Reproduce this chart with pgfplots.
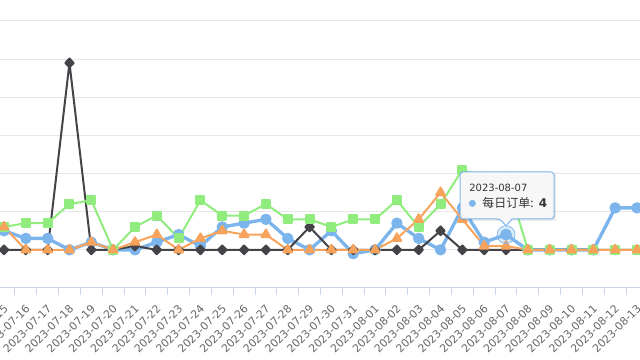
\documentclass[border=0pt]{standalone}
\usepackage{pgfplots}
\pgfplotsset{compat=1.18}
\usepackage{fontspec}
\setmainfont{DejaVu Sans}
\newfontfamily\cjk{Noto Sans CJK SC}
\definecolor{hcblue}{HTML}{7CB5EC}
\definecolor{hcblack}{HTML}{434348}
\definecolor{hcgreen}{HTML}{90ED7D}
\definecolor{hcorange}{HTML}{F7A35C}
\definecolor{gridc}{HTML}{E6E6E6}
\definecolor{axisc}{HTML}{CCD6EB}
\definecolor{labc}{HTML}{666666}
\definecolor{ttbg}{HTML}{F9F9F9}
\definecolor{ttext}{HTML}{333333}
\begin{document}
\begin{tikzpicture}[x=1pt,y=1pt]
\useasboundingbox (0,-43.2) rectangle (384,172.8);
\clip (0,-43.2) rectangle (384,172.8);
\begin{axis}[
  at={(0,0)}, anchor=south west, scale only axis,
  width=384pt, height=172.8pt,
  xmin=-0.183, xmax=29.137, ymin=-10, ymax=65.5,
  axis x line*=bottom, axis y line*=left,
  y axis line style={draw=none},
  x axis line style={draw=axisc, line width=0.6pt},
  ytick={0,10,...,60}, yticklabels={},
  ymajorgrids, grid style={draw=gridc, line width=0.6pt},
  ytick style={draw=none},
  xtick={0,...,29},
  xticklabels={2023-07-15,2023-07-16,2023-07-17,2023-07-18,2023-07-19,2023-07-20,2023-07-21,2023-07-22,2023-07-23,2023-07-24,2023-07-25,2023-07-26,2023-07-27,2023-07-28,2023-07-29,2023-07-30,2023-07-31,2023-08-01,2023-08-02,2023-08-03,2023-08-04,2023-08-05,2023-08-06,2023-08-07,2023-08-08,2023-08-09,2023-08-10,2023-08-11,2023-08-12,2023-08-13},
  major x tick style={draw=none},
  minor xtick={-0.5,0.5,...,29.5},
  minor x tick style={draw=axisc, line width=0.6pt},
  minor tick length=4.5pt, tick align=outside,
  xticklabel style={font=\fontsize{6.5}{8}\selectfont, text=labc, rotate=45, anchor=east, inner sep=0pt, xshift=1.8pt},
  xticklabel shift=8pt,
  clip=false,
]
% blue series
\addplot[hcblue, line width=2pt, line join=round, mark=*, mark size=2.4pt, mark options={draw=none, fill=hcblue}] coordinates {
(0,5)(1,3)(2,3)(3,0)(4,2)(5,0)(6,0)(7,2)(8,4)(9,1)(10,6)(11,7)(12,8)(13,3)(14,0)(15,5)(16,-1)(17,0)(18,7)(19,3)(20,0)(21,11)(22,2)(23,4)(24,0)(25,0)(26,0)(27,0)(28,11)(29,11)};
% black series
\addplot[hcblack, line width=1.2pt, line join=round, mark=diamond*, mark size=2.6pt, mark options={draw=none, fill=hcblack, xscale=1.3}] coordinates {
(0,0)(1,0)(2,0)(3,49)(4,0)(5,0)(6,1)(7,0)(8,0)(9,0)(10,0)(11,0)(12,0)(13,0)(14,6)(15,0)(16,0)(17,0)(18,0)(19,0)(20,5)(21,0)(22,0)(23,0)(24,0)(25,0)(26,0)(27,0)(28,0)(29,0)};
% green series
\addplot[hcgreen, line width=1.2pt, line join=round, mark=square*, mark size=2.4pt, mark options={draw=none, fill=hcgreen}] coordinates {
(0,6)(1,7)(2,7)(3,12)(4,13)(5,0)(6,6)(7,9)(8,3)(9,13)(10,9)(11,9)(12,12)(13,8)(14,8)(15,6)(16,8)(17,8)(18,13)(19,6)(20,12)(21,21)(22,19)(23,19)(24,0)(25,0)(26,0)(27,0)(28,0)(29,0)};
% orange series
\addplot[hcorange, line width=1.2pt, line join=round, mark=triangle*, mark size=3pt, mark options={draw=none, fill=hcorange}] coordinates {
(0,6)(1,0)(2,0)(3,0)(4,2)(5,0)(6,2)(7,4)(8,0)(9,3)(10,5)(11,4)(12,4)(13,0)(14,0)(15,0)(16,0)(17,0)(18,3)(19,8)(20,15)(21,8)(22,1)(23,1)(24,0)(25,0)(26,0)(27,0)(28,0)(29,0)};
% hovered point
\addplot[hcblue, only marks, mark=*, mark size=5.4pt, mark options={draw=none, fill=hcblue, fill opacity=0.3}] coordinates {(23,4)};
\addplot[hcblue, only marks, mark=*, mark size=3.2pt, mark options={draw=none, fill=hcblue}] coordinates {(23,4)};
\end{axis}
% tooltip
\fill[black, opacity=0.08] (277,40.2) rectangle (333.6,68.4);
\draw[hcblue, line width=0.6pt, fill=ttbg, fill opacity=0.97]
  (276,55) [rounded corners=1.8pt] -- (276,41.4) -- (300,41.4) [sharp corners] -- (303.6,37.2) -- (307.2,41.4) [rounded corners=1.8pt] -- (332.4,41.4) -- (332.4,69.6) -- (276,69.6) -- cycle;
\node[anchor=base west, inner sep=0pt, text=ttext, font=\fontsize{6}{7}\selectfont] at (281.4,57.6) {2023-08-07};
\fill[hcblue] (283.4,50.8) circle (2.1pt);
\node[anchor=base west, inner sep=0pt, text=ttext, font=\fontsize{7.2}{8}\selectfont] at (289.2,48.3) {{\cjk 每日订单:} \textbf{4}};
\end{tikzpicture}
\end{document}
